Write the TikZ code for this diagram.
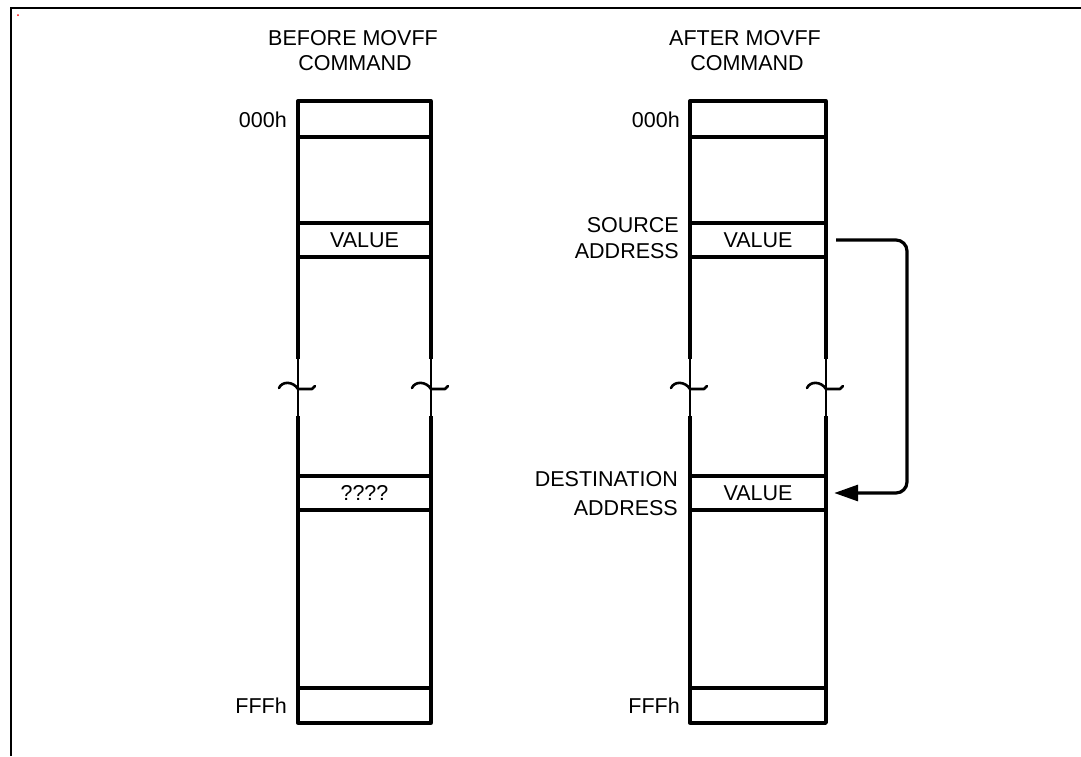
\documentclass[tikz,border=0pt]{standalone}
\usepackage{fontspec}
\setmainfont{Liberation Sans}
\usetikzlibrary{arrows.meta}
\begin{document}
\begin{tikzpicture}[x=1pt,y=-1pt,
  lbl/.style={font=\fontsize{21.5}{24}\selectfont, inner sep=0pt, text height=15.5pt, text depth=0pt},
  wall/.style={line width=3.3pt, line join=round, line cap=rect},
  brk/.style={line width=1.2pt},
  squiggle/.style={line width=2.6pt, line cap=round, line join=round},
  frame/.style={line width=2.2pt},
  movearrow/.style={line width=3.2pt, rounded corners=11pt, -{Triangle[length=24pt,width=16pt]}}]
\useasboundingbox (0,0) rectangle (1081,756);
% frame (only top and left edges visible)
\draw[frame] (11,756) -- (11,8) -- (1081,8);
\fill[red] (18,15) circle (1pt);
% memory columns
\foreach \L/\R in {298/431,690/826}{
  \draw[wall] (\L,357) -- (\L,101) -- (\R,101) -- (\R,357);
  \draw[brk] (\L,357) -- (\L,418);
  \draw[brk] (\R,357) -- (\R,418);
  \draw[wall] (\L,418) -- (\L,723) -- (\R,723) -- (\R,418);
  \foreach \y in {137,223,257,476,510,688}{
    \draw[wall] (\L,\y) -- (\R,\y);
  }
  \foreach \x in {\L,\R}{
    \draw[squiggle] (\x-19,388) .. controls (\x-16,381) and (\x-5,381) .. (\x,389) -- (\x+14,389) -- (\x+17,386);
  }
}
% headers
\node[lbl] (hb1) at (353,38) {BEFORE MOVFF};
\node[lbl] (hb2) at (355,63) {COMMAND};
\node[lbl] (ha1) at (745,38) {AFTER MOVFF};
\node[lbl] (ha2) at (747,63) {COMMAND};
% address labels
\node[lbl, anchor=east] (b000) at (287,119.5) {000h};
\node[lbl, anchor=east] (bfff) at (287,705.5) {FFFh};
\node[lbl, anchor=east] (a000) at (680,119.5) {000h};
\node[lbl, anchor=east] (afff) at (680,705.5) {FFFh};
\node[lbl, anchor=east] (src1) at (679,225) {SOURCE};
\node[lbl, anchor=east] (src2) at (679,251) {ADDRESS};
\node[lbl, anchor=east] (dst1) at (678,478.5) {DESTINATION};
\node[lbl, anchor=east] (dst2) at (678,507.5) {ADDRESS};
% cell contents
\node[lbl] (bval) at (364.5,240) {VALUE};
\node[lbl] (bq) at (364.5,493) {????};
\node[lbl, minimum width=136pt] (aval) at (758,240) {VALUE};
\node[lbl, minimum width=136pt] (adst) at (758,493) {VALUE};
% move arrow
\draw[movearrow] ([xshift=10pt]aval.east) -| (907,420) |- ([xshift=8pt]adst.east);
\end{tikzpicture}
\end{document}
